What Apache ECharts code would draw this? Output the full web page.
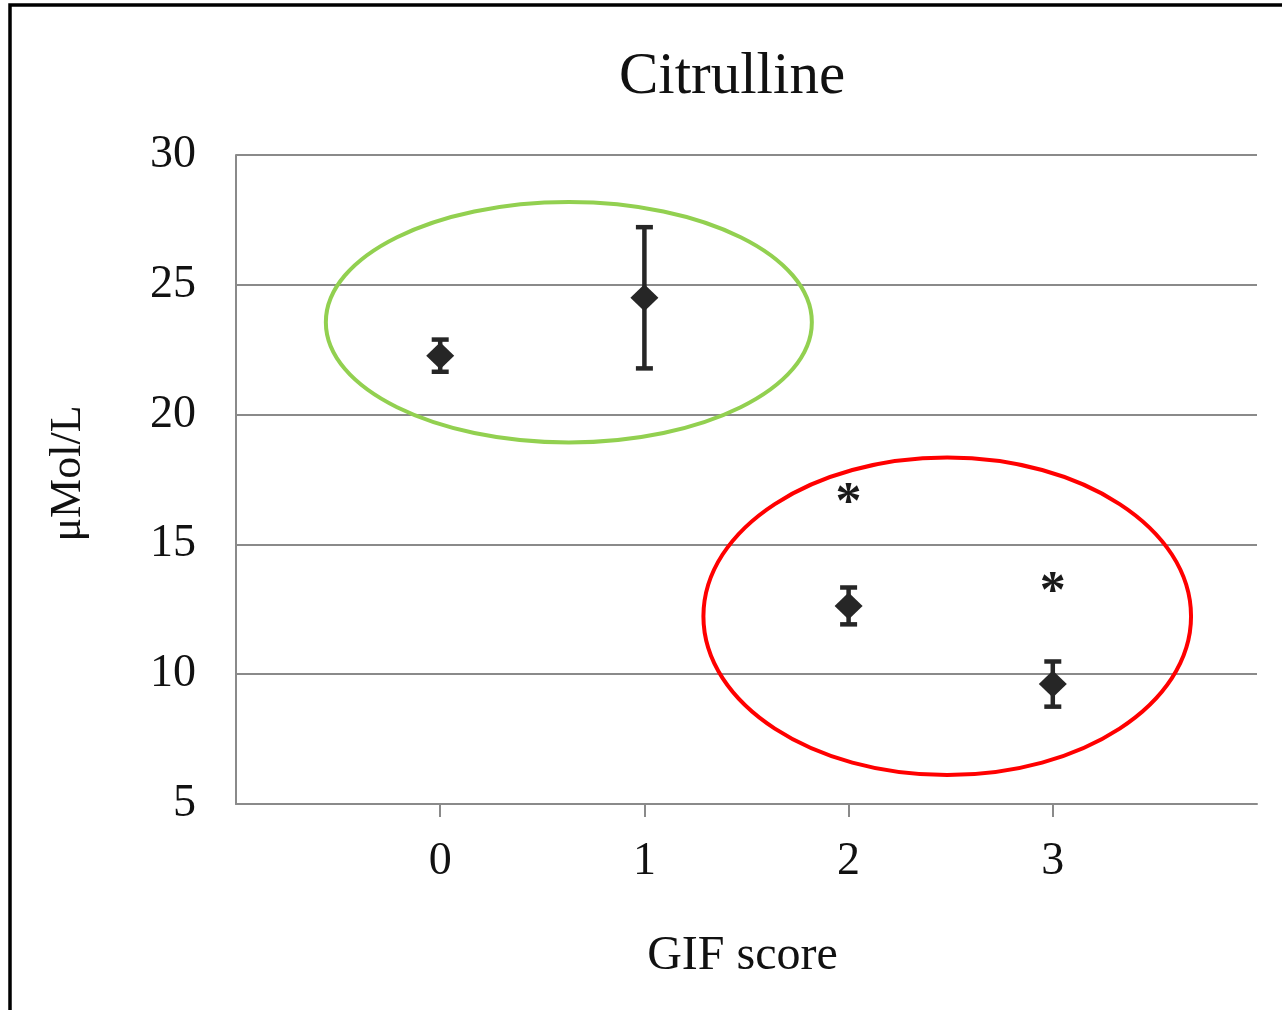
<!DOCTYPE html>
<html>
<head>
<meta charset="utf-8">
<title>Citrulline</title>
<script src="https://cdn.jsdelivr.net/npm/echarts@6/dist/echarts.min.js"></script>
<style>
  html, body { margin: 0; padding: 0; background: #ffffff; }
  #chart { width: 1282px; height: 1010px; }
</style>
</head>
<body>
<div id="chart"></div>
<script>
// GIF score groups and citrulline levels (mean ± error, µMol/L)
const gifScores = [0, 1, 2, 3];
const meanLevels = [22.27, 24.5, 12.63, 9.62];
const errorSizes = [0.62, 2.72, 0.71, 0.87];

// significance markers
const starScores = [2, 3];
const starLevels = [16.55, 13.1];

// grouping ellipses: centre (score, level) and radii (score units, level units)
const ellipseCenters = [[0.63, 23.56], [2.483, 12.23]];
const ellipseRadii = [[1.19, 4.63], [1.194, 6.115]];
const ellipseColors = ['#92D050', '#FF0000'];

const yTicks = [5, 10, 15, 20, 25, 30];

const serif = '"Liberation Serif", "DejaVu Serif", serif';
const axisGrey = '#8a8a8a';
const markColor = '#262626';

const chart = echarts.init(document.getElementById('chart'), null, { renderer: 'canvas' });

const errorData = gifScores.map((s, i) => [s, meanLevels[i] - errorSizes[i], meanLevels[i] + errorSizes[i]]);
const pointData = gifScores.map((s, i) => [s, meanLevels[i]]);
const starData = starScores.map((s, i) => [s, starLevels[i]]);
const ellipseData = ellipseCenters.map((c, i) => [c[0], c[1], ellipseRadii[i][0], ellipseRadii[i][1], i]);

const option = {
  animation: false,
  backgroundColor: '#ffffff',
  title: {
    text: 'Citrulline',
    left: 727,
    top: 43,
    textAlign: 'center',
    textStyle: { fontFamily: serif, fontSize: 59, fontWeight: 'normal', color: '#111' }
  },
  graphic: [{
    type: 'rect',
    shape: { x: 10, y: 5, width: 1400, height: 1200 },
    style: { fill: 'none', stroke: '#000', lineWidth: 3.5 },
    silent: true
  }],
  grid: { left: 236, top: 155, right: 25, bottom: 206, containLabel: false },
  xAxis: {
    type: 'value',
    min: -1,
    max: 4,
    interval: 1,
    name: 'GIF score',
    nameLocation: 'middle',
    nameGap: 128,
    nameTextStyle: { fontFamily: serif, fontSize: 48, color: '#111', padding: [0, 8, 0, 0] },
    axisLine: { show: true, onZero: false, lineStyle: { color: axisGrey, width: 2 } },
    axisTick: { show: true, customValues: gifScores, length: 13, lineStyle: { color: axisGrey, width: 2 } },
    axisLabel: {
      customValues: gifScores,
      margin: 35,
      fontFamily: serif, fontSize: 46, color: '#111'
    },
    splitLine: { show: false }
  },
  yAxis: {
    type: 'value',
    min: 5,
    max: 30,
    interval: 5,
    name: 'μMol/L',
    nameLocation: 'middle',
    nameGap: 146,
    nameRotate: 90,
    nameTextStyle: { fontFamily: serif, fontSize: 44, color: '#111', padding: [0, 0, 0, 12] },
    axisLine: { show: true, onZero: false, lineStyle: { color: axisGrey, width: 2 } },
    axisTick: { show: false },
    axisLabel: {
      margin: 40,
      fontFamily: serif, fontSize: 46, color: '#111',
      formatter: v => (yTicks.indexOf(v) >= 0 ? String(v) : '')
    },
    splitLine: { show: true, lineStyle: { color: axisGrey, width: 2 } }
  },
  series: [
    {
      name: 'error',
      type: 'custom',
      data: errorData,
      z: 3,
      renderItem: (params, api) => {
        const x = api.value(0);
        const lo = api.coord([x, api.value(1)]);
        const hi = api.coord([x, api.value(2)]);
        const half = 8.5;
        const st = { stroke: markColor, lineWidth: 4.5 };
        return {
          type: 'group',
          children: [
            { type: 'line', shape: { x1: lo[0], y1: lo[1], x2: hi[0], y2: hi[1] }, style: st },
            { type: 'line', shape: { x1: lo[0] - half, y1: lo[1], x2: lo[0] + half, y2: lo[1] }, style: st },
            { type: 'line', shape: { x1: hi[0] - half, y1: hi[1], x2: hi[0] + half, y2: hi[1] }, style: st }
          ]
        };
      }
    },
    {
      name: 'mean',
      type: 'scatter',
      data: pointData,
      symbol: 'diamond',
      symbolSize: [28, 27],
      itemStyle: { color: markColor, opacity: 1 },
      z: 4
    },
    {
      name: 'significance',
      type: 'scatter',
      data: starData,
      symbolSize: 0,
      itemStyle: { opacity: 1 },
      label: {
        show: true,
        position: 'inside',
        formatter: '*',
        fontFamily: serif,
        fontSize: 52,
        fontWeight: 'bold',
        color: '#1a1a1a'
      },
      z: 4
    },
    {
      name: 'groups',
      type: 'custom',
      data: ellipseData,
      clip: false,
      z: 5,
      renderItem: (params, api) => {
        const c = api.coord([api.value(0), api.value(1)]);
        const r = api.size([api.value(2), api.value(3)]);
        return {
          type: 'ellipse',
          shape: { cx: c[0], cy: c[1], rx: r[0], ry: r[1] },
          style: { fill: 'none', stroke: ellipseColors[api.value(4)], lineWidth: 4 }
        };
      }
    }
  ]
};

chart.setOption(option);
</script>
</body>
</html>
